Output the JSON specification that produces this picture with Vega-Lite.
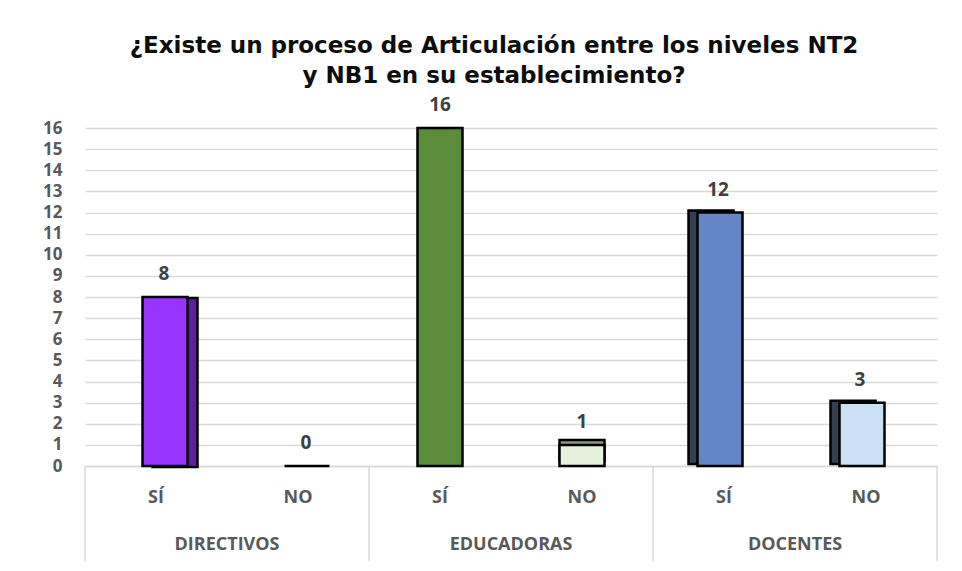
{
  "$schema": "https://vega.github.io/schema/vega-lite/v6.json",
  "width": 852,
  "height": 338,
  "autosize": {"type": "none"},
  "padding": {"left": 85, "top": 128, "right": 25, "bottom": 105},
  "background": "white",
  "config": {"view": {"stroke": null}, "font": "Open Sans"},
  "title": {
    "text": ["¿Existe un proceso de Articulación entre los niveles NT2", "y NB1 en su establecimiento?"],
    "font": "DejaVu Sans",
    "fontSize": 23,
    "fontWeight": "bold",
    "color": "#0d0d0d",
    "lineHeight": 30,
    "anchor": "middle",
    "dx": -17,
    "offset": 8
  },
  "data": {
    "values": [
      {"grupo": "DIRECTIVOS", "respuesta": "SÍ", "serie": "DIRECTIVOS SÍ", "valor": 8},
      {"grupo": "DIRECTIVOS", "respuesta": "NO", "serie": "DIRECTIVOS NO", "valor": 0},
      {"grupo": "EDUCADORAS", "respuesta": "SÍ", "serie": "EDUCADORAS SÍ", "valor": 16},
      {"grupo": "EDUCADORAS", "respuesta": "NO", "serie": "EDUCADORAS NO", "valor": 1},
      {"grupo": "DOCENTES", "respuesta": "SÍ", "serie": "DOCENTES SÍ", "valor": 12},
      {"grupo": "DOCENTES", "respuesta": "NO", "serie": "DOCENTES NO", "valor": 3}
    ]
  },
  "encoding": {
    "x": {
      "field": "serie",
      "type": "nominal",
      "sort": ["DIRECTIVOS SÍ", "DIRECTIVOS NO", "EDUCADORAS SÍ", "EDUCADORAS NO", "DOCENTES SÍ", "DOCENTES NO"],
      "scale": {"paddingInner": 0, "paddingOuter": 0},
      "axis": {
        "title": null,
        "labelAngle": 0,
        "labelExpr": "split(datum.label, ' ')[1]",
        "labelFont": "Open Sans",
        "labelFontSize": 18,
        "labelFontWeight": "bold",
        "labelColor": "#595959",
        "ticks": false,
        "labelPadding": 22,
        "domainColor": "#d9d9d9",
        "domainWidth": 1.5,
        "grid": false
      }
    },
    "y": {
      "field": "valor",
      "type": "quantitative",
      "scale": {"domain": [0, 16], "nice": false},
      "axis": {
        "title": null,
        "values": [0,1,2,3,4,5,6,7,8,9,10,11,12,13,14,15,16],
        "labelOverlap": false,
        "domain": false,
        "ticks": false,
        "labelFont": "Open Sans",
        "labelFontSize": 17,
        "labelFontWeight": "bold",
        "labelColor": "#595959",
        "labelPadding": 23,
        "gridColor": "#d9d9d9",
        "gridWidth": 1.5
      }
    }
  },
  "layer": [
    {
      "transform": [{"filter": "datum.grupo == 'DIRECTIVOS' && datum.valor > 0"}],
      "mark": {"type": "bar", "width": 45, "xOffset": 19, "yOffset": 1, "fill": "#5E1FA0", "stroke": "black", "strokeWidth": 2.5}
    },
    {
      "transform": [{"filter": "datum.grupo == 'DOCENTES'"}],
      "mark": {"type": "bar", "width": 45, "xOffset": -13, "yOffset": -2, "fill": "#34404E", "stroke": "black", "strokeWidth": 2.5}
    },
    {
      "transform": [{"filter": "datum.grupo == 'EDUCADORAS' && datum.respuesta == 'NO'"}],
      "mark": {"type": "bar", "width": 45, "xOffset": 0, "yOffset": -5, "fill": "#8A9A7E", "stroke": "black", "strokeWidth": 2.5}
    },
    {
      "transform": [{"filter": "datum.grupo == 'DIRECTIVOS'"}],
      "mark": {"type": "bar", "width": 45, "xOffset": 9, "stroke": "black", "strokeWidth": 2.5},
      "encoding": {
        "color": {
          "field": "serie",
          "type": "nominal",
          "scale": {
            "domain": ["DIRECTIVOS SÍ", "DIRECTIVOS NO", "EDUCADORAS SÍ", "EDUCADORAS NO", "DOCENTES SÍ", "DOCENTES NO"],
            "range": ["#9933FF", "#3F6FA8", "#5B8C3A", "#E6F2DC", "#6485C6", "#C9E0F5"]
          },
          "legend": null
        }
      }
    },
    {
      "transform": [{"filter": "datum.grupo == 'EDUCADORAS'"}],
      "mark": {"type": "bar", "width": 45, "xOffset": 0, "stroke": "black", "strokeWidth": 2.5},
      "encoding": {
        "color": {"field": "serie", "type": "nominal", "legend": null}
      }
    },
    {
      "transform": [{"filter": "datum.grupo == 'DOCENTES'"}],
      "mark": {"type": "bar", "width": 45, "xOffset": -4, "stroke": "black", "strokeWidth": 2.5},
      "encoding": {
        "color": {"field": "serie", "type": "nominal", "legend": null}
      }
    },
    {
      "mark": {"type": "text", "font": "Open Sans", "fontSize": 19, "fontWeight": "bold", "color": "#404040", "baseline": "middle", "dy": -23,
        "xOffset": {"expr": "datum.grupo == 'DIRECTIVOS' ? 8 : (datum.grupo == 'DOCENTES' ? -6 : 0)"}},
      "encoding": {
        "text": {"field": "valor", "type": "quantitative"}
      }
    },
    {
      "transform": [{"filter": "datum.respuesta == 'SÍ'"}],
      "mark": {"type": "text", "font": "Open Sans", "fontSize": 18, "fontWeight": "bold", "color": "#595959", "baseline": "middle", "xOffset": 71, "dy": 79},
      "encoding": {
        "y": {"datum": 0, "type": "quantitative"},
        "text": {"field": "grupo", "type": "nominal"}
      }
    },
    {
      "transform": [{"filter": "datum.respuesta == 'SÍ'"}],
      "mark": {"type": "rule", "color": "#d9d9d9", "strokeWidth": 1.5},
      "encoding": {
        "x": {"field": "serie", "type": "nominal", "bandPosition": 0},
        "y": {"datum": 0, "type": "quantitative"},
        "y2": {"datum": -4.5}
      }
    },
    {
      "transform": [{"filter": "datum.serie == 'DOCENTES NO'"}],
      "mark": {"type": "rule", "color": "#d9d9d9", "strokeWidth": 1.5},
      "encoding": {
        "x": {"field": "serie", "type": "nominal", "bandPosition": 1},
        "y": {"datum": 0, "type": "quantitative"},
        "y2": {"datum": -4.5}
      }
    }
  ]
}
